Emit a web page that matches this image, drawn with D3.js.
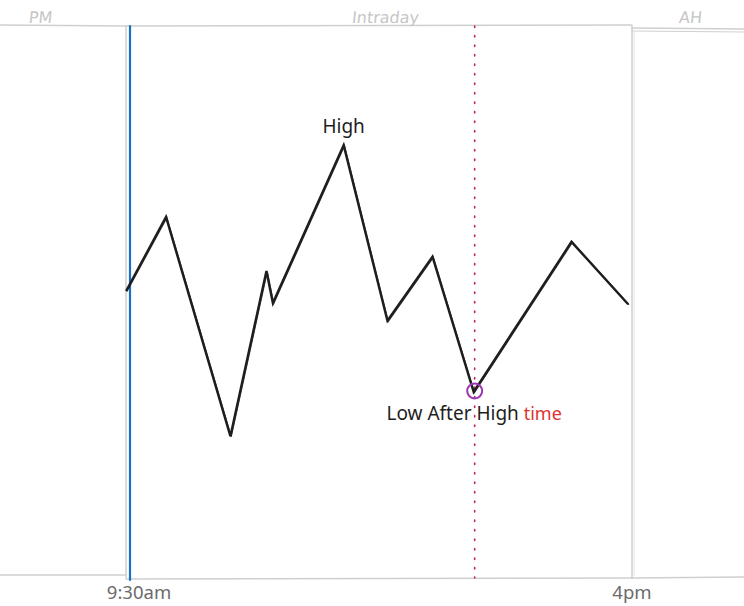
<!DOCTYPE html>
<html>
<head>
<meta charset="utf-8">
<script src="https://cdn.jsdelivr.net/npm/d3@7"></script>
<style>
  body { margin: 0; background: #fff; }
  svg { display: block; }
</style>
</head>
<body>
<div id="chart"></div>
<script>
// minutes after 9:30 open, price in arbitrary units (0-100)
const minutes = [-3, 28, 78, 106, 111, 166, 200, 235, 267, 343, 387];
const prices = [52.0, 65.4, 25.7, 55.6, 49.8, 78.4, 46.6, 58.2, 33.7, 60.9, 49.6];

const sessionLabels = ["PM", "Intraday", "AH"];
const tickMinutes = [0, 390];
const tickLabels = ["9:30am", "4pm"];

const highIndex = 5;      // the "High" point
const lowAfterIndex = 8;  // low after the high

const width = 744, height = 606;
const yTop = 26, yBottom = 578;
const font = "'Noto Sans', 'Open Sans', sans-serif";

const svg = d3.select("#chart").append("svg")
  .attr("width", width)
  .attr("height", height);

const x = d3.scaleLinear().domain([0, 390]).range([130, 632]);
const y = d3.scaleLinear().domain([0, 100]).range([yBottom, yTop]);

const gray = "#cfcfcf";

// panel frame, hand drawn look
function seg(x1, y1, x2, y2, color, w) {
  svg.append("line")
    .attr("x1", x1).attr("y1", y1).attr("x2", x2).attr("y2", y2)
    .attr("stroke", color).attr("stroke-width", w || 1.5)
    .attr("stroke-linecap", "round");
}

// top
seg(0, 25, x(0) - 3, 26, gray);
seg(x(0) - 3, 26, x(390), 25, gray);
seg(x(390), 28, width, 29, gray);
seg(x(390), 31, width, 32, gray, 1);
// bottom
seg(0, 575, x(0) - 4, 575, gray);
seg(x(0) - 4, yBottom + 1, x(390), yBottom, gray);
seg(x(390), yBottom, width, yBottom - 1, gray);
// verticals
seg(x(0) - 4, 26, x(0) - 4, yBottom, gray);
seg(x(390), 26, x(390), yBottom, gray);
seg(x(390) + 2, 30, x(390) + 2, yBottom - 2, "#e4e4e4", 1);

// open marker
seg(x(0), 26, x(0), yBottom + 2, "#1971c2", 2.2);

// time of low after high
svg.append("line")
  .attr("x1", x(minutes[lowAfterIndex]) + 1).attr("x2", x(minutes[lowAfterIndex]) + 1)
  .attr("y1", yTop).attr("y2", yBottom)
  .attr("stroke", "#c2255c")
  .attr("stroke-width", 1.6)
  .attr("stroke-dasharray", "1.5,8")
  .attr("stroke-linecap", "round");

// session labels
const sessionX = [40, 385, 690];
svg.selectAll(".session")
  .data(sessionLabels)
  .enter()
  .append("text")
  .attr("class", "session")
  .attr("x", (d, i) => sessionX[i])
  .attr("y", 23)
  .attr("text-anchor", "middle")
  .attr("font-family", "'DejaVu Sans', sans-serif")
  .attr("font-size", 16)
  .attr("transform", `skewX(-6) translate(${Math.tan(6 * Math.PI / 180) * 23},0)`)
  .attr("fill", "#c6c6c6")
  .text(d => d);

// tick labels
const tickShift = [9, 0];
svg.selectAll(".tick")
  .data(tickLabels)
  .enter()
  .append("text")
  .attr("x", (d, i) => x(tickMinutes[i]) + tickShift[i])
  .attr("y", 599)
  .attr("text-anchor", "middle")
  .attr("font-family", font)
  .attr("font-size", 18.5)
  .attr("fill", "#6b6b6b")
  .text(d => d);

// price path
const pts = minutes.map((m, i) => [x(m), y(prices[i])]);
const line = d3.line();

svg.append("path")
  .attr("d", line(pts))
  .attr("fill", "none")
  .attr("stroke", "#1e1e1e")
  .attr("stroke-width", 2.4)
  .attr("stroke-linejoin", "miter");

// second stroke slightly offset for the sketchy feel
svg.append("path")
  .attr("d", line(pts))
  .attr("transform", "translate(0.8,0.6)")
  .attr("fill", "none")
  .attr("stroke", "#1e1e1e")
  .attr("stroke-width", 1.3)
  .attr("opacity", 0.85);

// low after high marker
svg.append("circle")
  .attr("cx", pts[lowAfterIndex][0] + 1)
  .attr("cy", pts[lowAfterIndex][1] - 1)
  .attr("r", 7.5)
  .attr("fill", "none")
  .attr("stroke", "#9c36b5")
  .attr("stroke-width", 2);

// labels
svg.append("text")
  .attr("x", pts[highIndex][0])
  .attr("y", pts[highIndex][1] - 12)
  .attr("text-anchor", "middle")
  .attr("font-family", font)
  .attr("font-size", 19)
  .attr("fill", "#1e1e1e")
  .text("High");

svg.append("text")
  .attr("x", pts[lowAfterIndex][0] - 21)
  .attr("y", pts[lowAfterIndex][1] + 28)
  .attr("text-anchor", "middle")
  .attr("font-family", font)
  .attr("font-size", 19)
  .attr("fill", "#1e1e1e")
  .text("Low After High");

svg.append("text")
  .attr("x", pts[lowAfterIndex][0] + 50)
  .attr("y", pts[lowAfterIndex][1] + 28)
  .attr("text-anchor", "start")
  .attr("font-family", font)
  .attr("font-size", 18)
  .attr("fill", "#e03131")
  .text("time");
</script>
</body>
</html>
